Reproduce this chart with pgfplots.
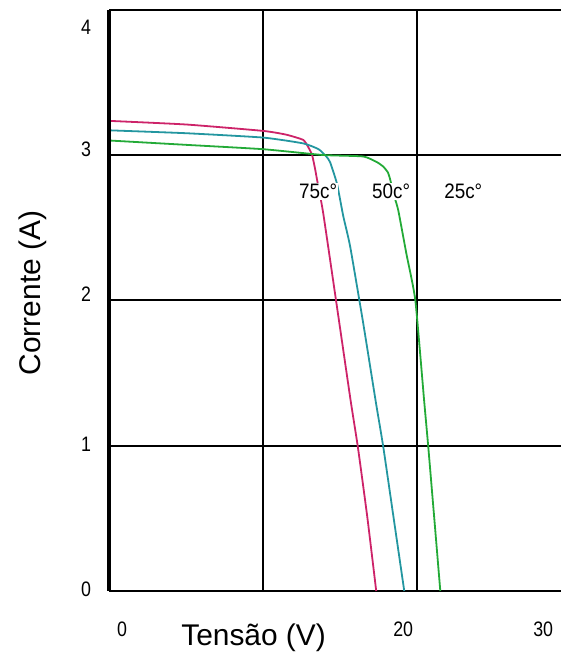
\documentclass[border=0pt]{standalone}
\usepackage{fontspec}
\setmainfont{Liberation Sans}
\usepackage{pgfplots}
\pgfplotsset{compat=1.18}
\definecolor{cred}{RGB}{205,35,105}
\definecolor{cteal}{RGB}{35,150,160}
\definecolor{cgreen}{RGB}{35,170,55}
\begin{document}
\begin{tikzpicture}
\begin{axis}[
  scale only axis, width=452bp, height=581bp,
  xmin=0, xmax=29.35, ymin=0, ymax=4,
  xtick={0,10,20}, ytick={0,1,2,3,4},
  xticklabels={}, yticklabels={},
  major tick length=0pt,
  grid=major,
  major grid style={black, line width=1.7bp},
  axis line style={draw=none},
  clip=false,
]
\addplot[cred, line width=1.8bp, smooth, tension=0.3] coordinates {
(0,3.235) (5,3.21) (10,3.166) (11.5,3.14) (12.6,3.104) (12.92,3.056) (13.18,3.0) (13.38,2.90) (13.5,2.83) (13.9,2.60) (14.8,1.95) (15.68,1.31) (16.15,0.99) (16.76,0.51) (17.34,0.0)};
\addplot[cteal, line width=1.8bp, smooth, tension=0.3] coordinates {
(0,3.17) (5,3.15) (10,3.12) (12.6,3.08) (13.6,3.04) (14.1,2.99) (14.35,2.95) (14.8,2.80) (15.2,2.58) (15.65,2.37) (16.5,1.84) (17.3,1.31) (17.8,0.99) (18.46,0.51) (19.16,0.0)};
\addplot[cgreen, line width=1.8bp, smooth, tension=0.3] coordinates {
(0,3.10) (5,3.07) (10,3.04) (13.9,3.0) (16.5,2.99) (17.4,2.95) (17.8,2.92) (18.1,2.88) (18.25,2.83) (18.5,2.72) (18.77,2.62) (19.3,2.32) (19.88,2.0) (20.45,1.31) (20.72,0.99) (21.1,0.51) (21.5,0.0)};
\draw[black, line width=3.5bp] (axis cs:0,0) -- (axis cs:0,4);
% temperature labels
\node[fill=white, inner sep=1bp, font=\fontsize{21}{24}\selectfont] at (axis cs:13.57,2.75) {\scalebox{0.9}[1]{75c°}};
\node[fill=white, inner sep=1bp, font=\fontsize{21}{24}\selectfont] at (axis cs:18.31,2.75) {\scalebox{0.9}[1]{50c°}};
\node[fill=white, inner sep=1bp, font=\fontsize{21}{24}\selectfont] at (axis cs:22.99,2.75) {\scalebox{0.9}[1]{25c°}};
% tick labels
\node[font=\fontsize{21}{24}\selectfont] at (axis cs:0.84,-0.2615) {\scalebox{0.85}[1]{0}};
\node[font=\fontsize{21}{24}\selectfont] at (axis cs:19.09,-0.2615) {\scalebox{0.85}[1]{20}};
\node[font=\fontsize{21}{24}\selectfont] at (axis cs:28.18,-0.2615) {\scalebox{0.85}[1]{30}};
\node[font=\fontsize{21}{24}\selectfont] at (axis cs:-1.49,3.88) {\scalebox{0.85}[1]{4}};
\node[font=\fontsize{21}{24}\selectfont] at (axis cs:-1.49,3.04) {\scalebox{0.85}[1]{3}};
\node[font=\fontsize{21}{24}\selectfont] at (axis cs:-1.49,2.04) {\scalebox{0.85}[1]{2}};
\node[font=\fontsize{21}{24}\selectfont] at (axis cs:-1.49,1.01) {\scalebox{0.85}[1]{1}};
\node[font=\fontsize{21}{24}\selectfont] at (axis cs:-1.49,0.01) {\scalebox{0.85}[1]{0}};
% axis titles
\node[font=\fontsize{30}{34}\selectfont, rotate=90] at (axis cs:-4.94,2.05) {Corrente (A)};
\node[font=\fontsize{30}{34}\selectfont] at (axis cs:9.38,-0.323) {Tensão (V)};
\end{axis}
\pgfresetboundingbox
\path ([shift={(-109bp,-63bp)}]current axis.south west) rectangle ([shift={(0bp,9.7bp)}]current axis.north east);
\end{tikzpicture}
\end{document}
